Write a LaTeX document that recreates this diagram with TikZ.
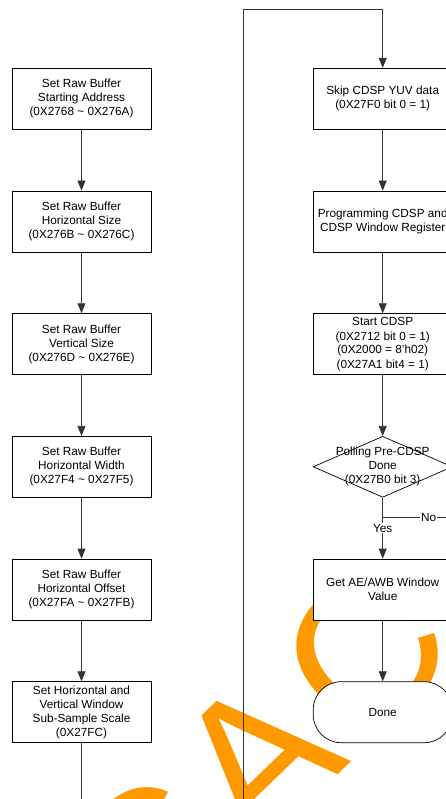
\documentclass[tikz,border=0pt]{standalone}
\usepackage{fontspec}
\setmainfont{Liberation Sans}
\usetikzlibrary{arrows.meta,positioning,shapes.geometric}
\definecolor{wmorange}{HTML}{FF9900}

\begin{document}
\begin{tikzpicture}[x=1pt,y=1pt,>={Triangle[length=10pt,width=8pt]},
  font=\fontsize{11.8}{14}\selectfont,line width=0.7pt,
  box/.style={draw,fill=white,minimum width=139pt,minimum height=61pt,inner sep=1pt,align=center},
  decision/.style={draw,fill=white,diamond,minimum width=139pt,minimum height=61pt,inner sep=0pt},
  terminal/.style={draw,fill=white,rounded corners=28pt,minimum width=139pt,minimum height=61pt},
  flow/.style={->,draw=black!80}]
\useasboundingbox (0,0) rectangle (446,-799);
\clip (0,0) rectangle (446,-799);
\node[text=wmorange,font=\fontsize{199}{199}\selectfont,inner sep=0pt,rotate=44,anchor=base west] (wmark) at (144.4,-961.8) {C\kern12pt A\kern12pt C};
\node[box] (rawaddr) at (81.5,-98.7) {Set Raw Buffer\\ Starting Address\\ (0X2768 \textasciitilde{} 0X276A)};
\node[box,below=61pt of rawaddr] (rawhsize) {Set Raw Buffer\\ Horizontal Size\\ (0X276B \textasciitilde{} 0X276C)};
\node[box,below=61pt of rawhsize] (rawvsize) {Set Raw Buffer\\ Vertical Size\\ (0X276D \textasciitilde{} 0X276E)};
\node[box,below=61pt of rawvsize] (rawwidth) {Set Raw Buffer\\ Horizontal Width\\ (0X27F4 \textasciitilde{} 0X27F5)};
\node[box,below=61pt of rawwidth] (rawoffset) {Set Raw Buffer\\ Horizontal Offset\\ (0X27FA \textasciitilde{} 0X27FB)};
\node[box,below=61pt of rawoffset] (subsample) {Set Horizontal and\\ Vertical Window\\ Sub-Sample Scale\\ (0X27FC)};
\node[box,right=161.5pt of rawaddr] (skipyuv) {Skip CDSP YUV data\\ (0X27F0 bit 0 = 1)};
\node[box,below=61pt of skipyuv] (progcdsp) {Programming CDSP and\\ CDSP Window Register};
\node[box,below=61pt of progcdsp] (startcdsp) {Start CDSP\\ (0X2712 bit 0 = 1)\\ (0X2000 = 8'h02)\\ (0X27A1 bit4 = 1)};
\node[decision,below=61pt of startcdsp,label={[align=center]center:Polling Pre-CDSP\\ Done\\ (0X27B0 bit 3)}] (polldone) {};
\node[box,below=61pt of polldone] (getawb) {Get AE/AWB Window\\ Value};
\node[terminal,below=61pt of getawb] (done) {Done};
\coordinate[below=20pt of polldone] (nobend);
\coordinate[right=92pt of nobend] (noexit);
\coordinate (loopbot) at (243.5,-830);
\coordinate (looptop) at (243.5,-9.3);
\draw[flow] (rawaddr) -- (rawhsize);
\draw[flow] (rawhsize) -- (rawvsize);
\draw[flow] (rawvsize) -- (rawwidth);
\draw[flow] (rawwidth) -- (rawoffset);
\draw[flow] (rawoffset) -- (subsample);
\draw[flow] (subsample) |- (loopbot) -- (looptop) -| (skipyuv);
\draw[flow] (skipyuv) -- (progcdsp);
\draw[flow] (progcdsp) -- (startcdsp);
\draw[flow] (startcdsp) -- (polldone);
\draw[draw=black!80] (nobend) -- node[fill=white,inner sep=1pt]{No} (noexit);
\draw[flow] (polldone) -- node[fill=white,inner sep=1pt]{Yes} (getawb);
\draw[flow] (getawb) -- (done);
\end{tikzpicture}
\end{document}
